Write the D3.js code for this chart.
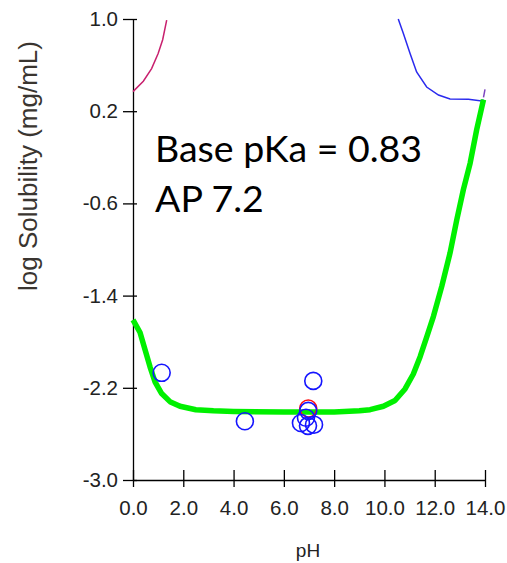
<!DOCTYPE html>
<html>
  <head>
    <meta charset="utf-8" />
    <title>log Solubility vs pH</title>
    <script src="https://d3js.org/d3.v7.min.js"></script>
    <style>
      body { margin: 0; background: white; }
      .tick text { font-family: "Liberation Sans", Arial, sans-serif; font-size: 20.5px; fill: #222; }
      .tick line, .domain { stroke: black; stroke-width: 1.3px; }
    </style>
  </head>
  <body>
    <svg id="viz"></svg>
    <script>

    var width = 507,
        height = 563;

    // fitted solubility curve (green)
    var fitPH  = [0, 0.28, 0.48, 0.68, 0.88, 1.14, 1.47, 1.87, 2.5, 3.2, 4, 6, 8, 9, 9.43, 9.96, 10.42, 10.82, 11.15, 11.42, 11.68, 11.95, 12.28, 12.61, 12.88, 13.14, 13.41, 13.67, 13.94];
    var fitLogS = [-1.61, -1.72, -1.87, -2.02, -2.15, -2.25, -2.32, -2.36, -2.39, -2.40, -2.405, -2.41, -2.41, -2.40, -2.39, -2.36, -2.31, -2.21, -2.08, -1.93, -1.76, -1.58, -1.32, -1.03, -0.74, -0.48, -0.25, 0.04, 0.30];

    // pink curve, top left
    var pinkPH  = [0, 0.41, 0.74, 1.0, 1.18, 1.34];
    var pinkLogS = [0.37, 0.46, 0.57, 0.70, 0.82, 0.99];

    // blue curve, top right
    var bluePH  = [10.55, 10.75, 11.02, 11.28, 11.68, 12.15, 12.61, 13.34, 13.87, 13.94];
    var blueLogS = [1.0, 0.876, 0.70, 0.54, 0.41, 0.34, 0.306, 0.303, 0.289, 0.30];

    // short purple piece at pH 14
    var purplePH  = [13.94, 14.0];
    var purpleLogS = [0.32, 0.39];

    // measured points
    var measPH  = [1.14, 4.45, 7.17, 6.97, 6.88, 6.68, 7.2, 6.96];
    var measLogS = [-2.07, -2.49, -2.14, -2.40, -2.46, -2.505, -2.52, -2.53];
    var redPH = [6.97];
    var redLogS = [-2.38];

    var yTicks = [-3.0, -2.2, -1.4, -0.6, 0.2, 1.0];
    var xTicks = [0, 2, 4, 6, 8, 10, 12, 14];

    var svg = d3.select("#viz")
      .attr("width", width)
      .attr("height", height);

    var x = d3.scaleLinear().domain([0, 14]).range([133, 485]);
    var y = d3.scaleLinear().domain([-3, 1]).range([480, 19]);

    function zip(a, b) {
      return a.map(function(d, i) { return [d, b[i]]; });
    }

    var line = d3.line()
      .x(function(d) { return x(d[0]); })
      .y(function(d) { return y(d[1]); });

    //Axes
    var yAxis = svg.append("g")
      .attr("transform", "translate(133,0)")
      .call(d3.axisLeft(y).tickValues(yTicks).tickSize(10).tickSizeOuter(0).tickPadding(5)
        .tickFormat(function(d) { return d.toFixed(1); }));
    yAxis.selectAll(".tick line").attr("x1", 4);

    var xAxis = svg.append("g")
      .attr("transform", "translate(0,480)")
      .call(d3.axisBottom(x).tickValues(xTicks).tickSize(7).tickSizeOuter(0).tickPadding(13)
        .tickFormat(function(d) { return d.toFixed(1); }));
    xAxis.selectAll(".tick line").attr("y1", -10);

    //Axis titles
    svg.append("text")
      .attr("transform", "translate(37,166) rotate(-90)")
      .attr("text-anchor", "middle")
      .style("font-family", "Liberation Sans, Arial, sans-serif")
      .style("font-size", "26px")
      .style("fill", "#3a3530")
      .text("log Solubility (mg/mL)");

    svg.append("text")
      .attr("x", 308)
      .attr("y", 557)
      .attr("text-anchor", "middle")
      .style("font-family", "Liberation Sans, Arial, sans-serif")
      .style("font-size", "19px")
      .style("fill", "#222")
      .text("pH");

    //Curves
    svg.append("path")
      .attr("d", line(zip(pinkPH, pinkLogS)))
      .attr("fill", "none")
      .attr("stroke", "#c8206e")
      .attr("stroke-width", 1.5);

    svg.append("path")
      .attr("d", line(zip(bluePH, blueLogS)))
      .attr("fill", "none")
      .attr("stroke", "#2a2aee")
      .attr("stroke-width", 1.5);

    svg.append("path")
      .attr("d", line(zip(purplePH, purpleLogS)))
      .attr("fill", "none")
      .attr("stroke", "#7b44c0")
      .attr("stroke-width", 1.5);

    svg.append("path")
      .attr("d", line(zip(fitPH, fitLogS)))
      .attr("fill", "none")
      .attr("stroke", "#00f000")
      .attr("stroke-width", 5.5)
      .attr("stroke-linejoin", "round");

    //Points
    svg.selectAll("circle.red")
      .data(zip(redPH, redLogS))
      .enter().append("circle")
      .attr("class", "red")
      .attr("cx", function(d) { return x(d[0]); })
      .attr("cy", function(d) { return y(d[1]); })
      .attr("r", 8.5)
      .attr("fill", "none")
      .attr("stroke", "#ff1010")
      .attr("stroke-width", 1.6);

    svg.selectAll("circle.meas")
      .data(zip(measPH, measLogS))
      .enter().append("circle")
      .attr("class", "meas")
      .attr("cx", function(d) { return x(d[0]); })
      .attr("cy", function(d) { return y(d[1]); })
      .attr("r", 8.5)
      .attr("fill", "none")
      .attr("stroke", "#1515ff")
      .attr("stroke-width", 1.6);

    //Annotation
    var note = svg.append("g")
      .style("font-family", "Lato, 'Open Sans', sans-serif")
      .style("font-size", "37.5px")
      .style("fill", "black");
    note.append("text").attr("x", 155).attr("y", 162).text("Base pKa = 0.83");
    note.append("text").attr("x", 155).attr("y", 212).text("AP 7.2");

    </script>
  </body>
</html>
